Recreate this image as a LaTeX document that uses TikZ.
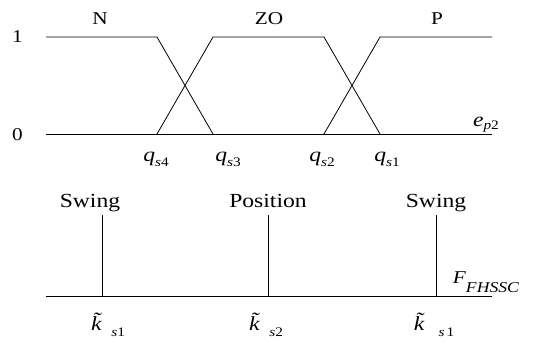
\documentclass[tikz,border=0pt]{standalone}
\usepackage{fontspec}
\setmainfont[FakeStretch=1.18]{Liberation Serif}
\usetikzlibrary{positioning}
% italic letter with a lowered subscript: {letter}{sub}{drop}{sub size}
\newcommand{\lsub}[4]{\textit{#1}\raisebox{-#3}{\fontsize{#4}{#4}\selectfont #2}}

\begin{document}
\begin{tikzpicture}[x=1pt, y=-1pt, line width=0.8pt,
		lbl/.style={inner sep=0pt, anchor=base, font=\fontsize{18}{20}\selectfont},
		big/.style={inner sep=0pt, anchor=base, font=\fontsize{20}{22}\selectfont}]
	\useasboundingbox (0,0) rectangle (535,342);
	% membership functions
	\coordinate (l0) at (46,134);  \coordinate (r0) at (492,134);
	\coordinate (l1) at (46,37);   \coordinate (r1) at (492,37);
	\coordinate (q4) at (157,134); \coordinate (t4) at (157,37);
	\coordinate (q3) at (213,134); \coordinate (t3) at (213,37);
	\coordinate (q2) at (324,134); \coordinate (t2) at (324,37);
	\coordinate (q1) at (380,134); \coordinate (t1) at (380,37);
	\draw (l0) -- (r0);
	\draw (l1) -- (t4) -- (q3);
	\draw (q4) -- (t3) -- (t2) -- (q1);
	\draw (q2) -- (t1) -- (r1);
	\node[lbl] (one) at (17.5,43) {1};
	\node[lbl] (zero) at (17.5,140) {0};
	\node[lbl] (nN) at (100,25) {N};
	\node[lbl] (nZO) at (269,25) {ZO};
	\node[lbl] (nP) at (437,25) {P};
	\node[big] (ep) at (486,126) {\lsub{e}{\textit{p}2}{3pt}{13}};
	\node[big] (lq4) at (156,161) {\lsub{q}{\textit{s}4}{5pt}{13}};
	\node[big] (lq3) at (228,161) {\lsub{q}{\textit{s}3}{5pt}{13}};
	\node[big] (lq2) at (322,161) {\lsub{q}{\textit{s}2}{5pt}{13}};
	\node[big] (lq1) at (387,161) {\lsub{q}{\textit{s}1}{5pt}{13}};
	% output singletons
	\coordinate (b0) at (46,296);  \coordinate (b1) at (492,296);
	\draw (b0) -- (b1);
	\coordinate (k1) at (102,296); \coordinate (h1) at (102,215);
	\coordinate (k2) at (268.5,296); \coordinate (h2) at (268.5,215);
	\coordinate (k3) at (436,296); \coordinate (h3) at (436,215);
	\foreach \k in {1,2,3}
	  \draw (k\k) -- (h\k);
	\node[big] (sw1) at (90,207) {Swing};
	\node[big] (pos) at (268,207) {Position};
	\node[big] (sw2) at (436,207) {Swing};
	\node[lbl] (fout) at (486,283) {\lsub{F}{\textit{FHSSC}}{9pt}{15}};
	\node[big] (lk1) at (108,330) {\lsub{\~{k}}{\hspace{0.5pt}\textit{s}1}{6pt}{13}};
	\node[big] (lk2) at (266,330) {\lsub{\~{k}}{\hspace{0.5pt}\textit{s}2}{6pt}{13}};
	\node[big] (lk3) at (434,330) {\lsub{\~{k}}{\hspace{5pt}\textit{s}\hspace{2pt}1}{6pt}{13}};
\end{tikzpicture}
\end{document}
